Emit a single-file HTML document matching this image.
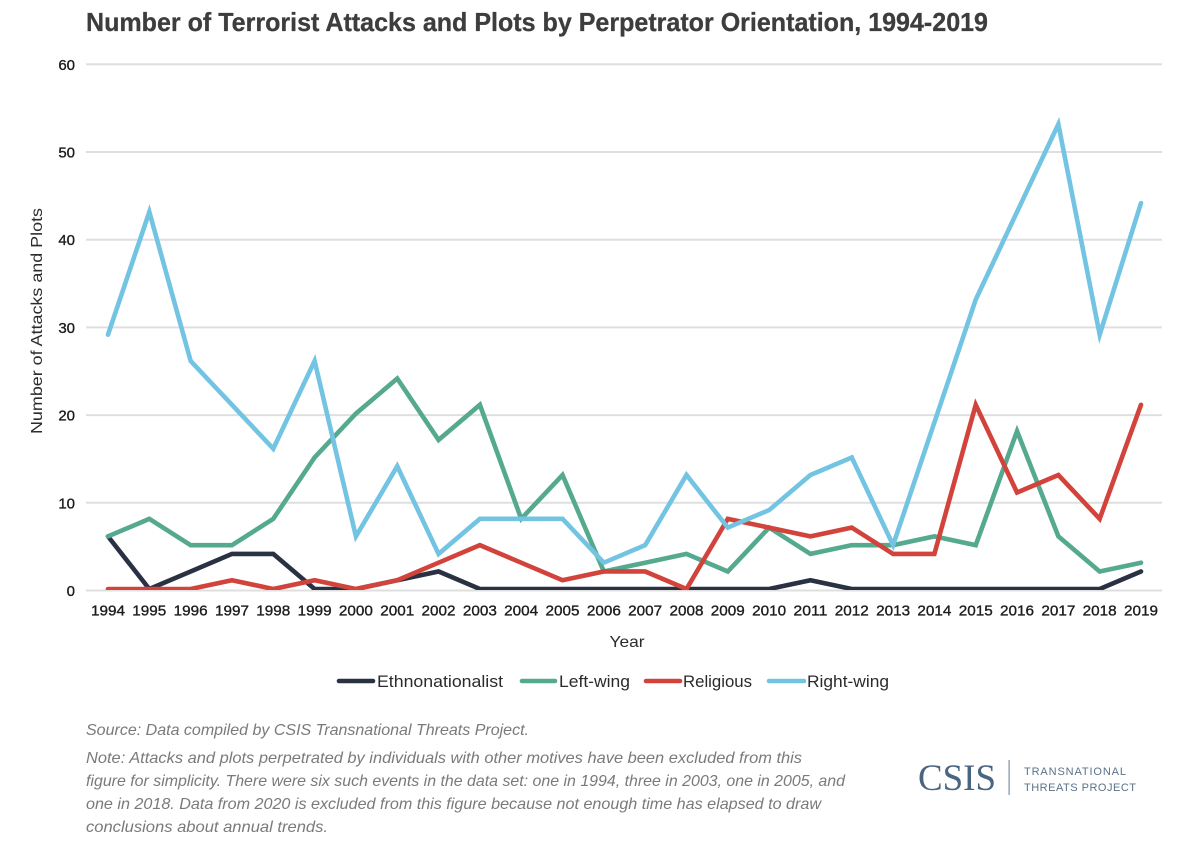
<!DOCTYPE html>
<html lang="en">
<head>
<meta charset="utf-8">
<title>Number of Terrorist Attacks and Plots by Perpetrator Orientation, 1994-2019</title>
<style>
html,body{margin:0;padding:0;background:#fff;}
svg{display:block;}
text{font-family:"Liberation Sans",sans-serif;}
.tick{font-size:15px;fill:#1c1c1c;stroke:#1c1c1c;stroke-width:0.35px;}
.legend{font-size:17px;fill:#2b2b2b;}
.note{font-size:16px;font-style:italic;fill:#7a7a7a;}
</style>
</head>
<body>
<svg id="chart" xmlns="http://www.w3.org/2000/svg" width="1196" height="848" viewBox="0 0 1196 848">
  <defs>
    <clipPath id="plot-clip"><rect x="80" y="50" width="1090" height="540"></rect></clipPath>
  </defs>
  <text x="86" y="31" font-size="26" font-weight="700" fill="#3d3d3d" stroke="#3d3d3d" stroke-width="0.3" textLength="902" lengthAdjust="spacingAndGlyphs">Number of Terrorist Attacks and Plots by Perpetrator Orientation, 1994-2019</text>
  <g id="grid"></g>
  <g id="yticks"></g>
  <g id="xticks"></g>
  <text transform="translate(42,321) rotate(-90)" text-anchor="middle" font-size="16" fill="#2b2b2b" textLength="226" lengthAdjust="spacingAndGlyphs">Number of Attacks and Plots</text>
  <text x="627" y="647" text-anchor="middle" font-size="16" fill="#2b2b2b" textLength="35" lengthAdjust="spacingAndGlyphs">Year</text>
  <g id="series" clip-path="url(#plot-clip)"></g>
  <g id="legend"></g>
  <text class="note" x="86" y="735" textLength="443" lengthAdjust="spacingAndGlyphs">Source: Data compiled by CSIS Transnational Threats Project.</text>
  <text class="note" x="86" y="763" textLength="716" lengthAdjust="spacingAndGlyphs">Note: Attacks and plots perpetrated by individuals with other motives have been excluded from this</text>
  <text class="note" x="86" y="786" textLength="759" lengthAdjust="spacingAndGlyphs">figure for simplicity. There were six such events in the data set: one in 1994, three in 2003, one in 2005, and</text>
  <text class="note" x="86" y="809" textLength="735" lengthAdjust="spacingAndGlyphs">one in 2018. Data from 2020 is excluded from this figure because not enough time has elapsed to draw</text>
  <text class="note" x="86" y="832" textLength="242" lengthAdjust="spacingAndGlyphs">conclusions about annual trends.</text>
  <g>
    <text x="918" y="790" style="font-family:'Liberation Serif',serif" font-size="37" fill="#4a6580" textLength="78" lengthAdjust="spacingAndGlyphs">CSIS</text>
    <rect x="1008.5" y="760" width="1.2" height="35" fill="#7d90a3"></rect>
    <text x="1024" y="775" font-size="11" fill="#5a7289" textLength="102" lengthAdjust="spacing">TRANSNATIONAL</text>
    <text x="1024" y="791" font-size="11" fill="#5a7289" textLength="112" lengthAdjust="spacing">THREATS PROJECT</text>
  </g>
</svg>
<script>
const years = [1994,1995,1996,1997,1998,1999,2000,2001,2002,2003,2004,2005,2006,2007,2008,2009,2010,2011,2012,2013,2014,2015,2016,2017,2018,2019];
const yTickValues = [0,10,20,30,40,50,60];
const ethnonationalist = [6,0,2,4,4,0,0,1,2,0,0,0,0,0,0,0,0,1,0,0,0,0,0,0,0,2];
const leftWing = [6,8,5,5,8,15,20,24,17,21,8,13,2,3,4,2,7,4,5,5,6,5,18,6,2,3];
const religious = [0,0,0,1,0,1,0,1,3,5,3,1,2,2,0,8,7,6,7,4,4,21,11,13,8,21];
const rightWing = [29,43,26,21,16,26,6,14,4,8,8,8,3,5,13,7,9,13,15,5,19,33,43,53,29,44];

const NS = 'http://www.w3.org/2000/svg';
function xPos(i){ return 108 + i * (1141 - 108) / (years.length - 1); }
function yPos(v){ return 590.5 - v * 8.77; }
function make(tag, attrs){
  const el = document.createElementNS(NS, tag);
  for (const k in attrs) el.setAttribute(k, attrs[k]);
  return el;
}
const gridG = document.getElementById('grid');
const yG = document.getElementById('yticks');
const xG = document.getElementById('xticks');
const seriesG = document.getElementById('series');
const legendG = document.getElementById('legend');

yTickValues.forEach(function(v){
  const line = make('line', {x1:86, x2:1162, y1:yPos(v), y2:yPos(v), stroke:'#dfdfdf', 'stroke-width':2});
  
  
  gridG.appendChild(line);
  const t = make('text', {x:75, y:yPos(v)+5.5, 'text-anchor':'end', class:'tick'});
  
  
  t.textContent = v;
  yG.appendChild(t);
});

years.forEach(function(yr, i){
  const t = make('text', {x:xPos(i), y:615.5, 'text-anchor':'middle', class:'tick', textLength:34, lengthAdjust:'spacingAndGlyphs'});
  
  
  t.textContent = yr;
  xG.appendChild(t);
});

function drawSeries(values, color){
  const pts = values.map(function(v, i){ return xPos(i).toFixed(2) + ',' + (yPos(v) - 1.5).toFixed(2); }).join(' ');
  const line = make('polyline', {points:pts, fill:'none', stroke:color, 'stroke-width':4.6, 'stroke-linejoin':'miter', 'stroke-miterlimit':6, 'stroke-linecap':'round'});
  
  
  seriesG.appendChild(line);
}
drawSeries(ethnonationalist, '#2a3142');
drawSeries(leftWing, '#55a98f');
drawSeries(religious, '#d2433b');
drawSeries(rightWing, '#72c4e2');

function legendEntry(label, color, x1, x2, tx, tw){
  const g = make('g', {});
  
  
  const sw = make('line', {x1:x1, x2:x2, y1:681, y2:681, stroke:color, 'stroke-width':4.6, 'stroke-linecap':'round'});
  
  
  const t = make('text', {x:tx, y:687, class:'legend', textLength:tw, lengthAdjust:'spacingAndGlyphs'});
  
  
  t.textContent = label;
  g.appendChild(sw);
  g.appendChild(t);
  legendG.appendChild(g);
}
legendEntry('Ethnonationalist', '#2a3142', 339, 373, 377, 126);
legendEntry('Left-wing', '#55a98f', 522, 555, 559, 71);
legendEntry('Religious', '#d2433b', 646, 680, 683, 69);
legendEntry('Right-wing', '#72c4e2', 769, 804, 807, 82);
</script>
</body>
</html>
